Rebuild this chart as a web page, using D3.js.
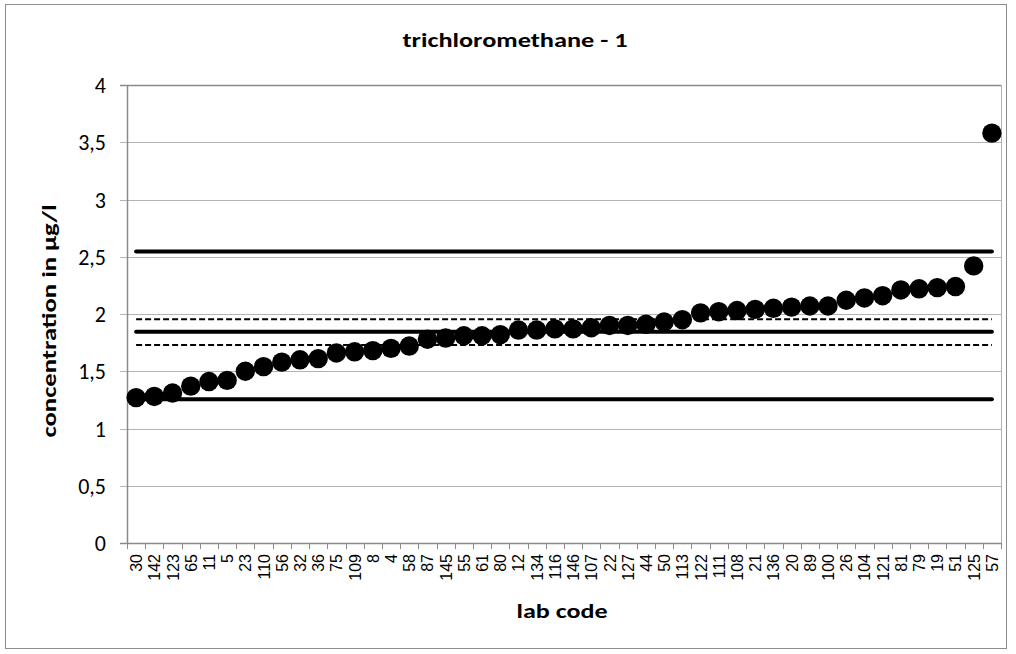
<!DOCTYPE html>
<html><head><meta charset="utf-8">
<script src="https://cdn.jsdelivr.net/npm/d3@7"></script>
<style>body{margin:0;background:#fff}svg{display:block}</style>
</head><body>
<script>
const labCodes = ["30","142","123","65","11","5","23","110","56","32","36","75","109","8","4","58","87","145","55","61","80","12","134","116","146","107","22","127","44","50","113","122","111","108","21","136","20","89","100","26","104","121","81","79","19","51","125","57"];
const concentrations = [1.27,1.28,1.31,1.37,1.41,1.42,1.50,1.54,1.58,1.60,1.61,1.66,1.67,1.68,1.70,1.72,1.78,1.79,1.81,1.81,1.82,1.86,1.86,1.87,1.87,1.88,1.90,1.90,1.91,1.93,1.95,2.01,2.02,2.03,2.04,2.05,2.06,2.07,2.07,2.12,2.14,2.16,2.21,2.22,2.23,2.24,2.42,3.58];
const solidLimits = [2.545, 1.845, 1.255];
const dashedLimits = [1.955, 1.73];
const yTicks = [0,0.5,1,1.5,2,2.5,3,3.5,4];

const W=1016,H=654;
const m={left:127,right:1001,top:85,bottom:543};
const svg=d3.select("body").append("svg").attr("width",W).attr("height",H);
svg.append("rect").attr("x",5.5).attr("y",4.5).attr("width",1001).attr("height",644).attr("fill","#fff").attr("stroke","#8c8c8c");

const x=d3.scaleBand().domain(labCodes).range([m.left,m.right]);
const y=d3.scaleLinear().domain([0,4]).range([m.bottom,m.top]);
const fmt=d=>String(d).replace(".",",");
const cx=d=>x(d)+x.bandwidth()/2;

// grid
svg.append("g").selectAll("line").data(yTicks).join("line")
 .attr("x1",m.left-7).attr("x2",m.right).attr("y1",d=>Math.round(y(d))+0.5).attr("y2",d=>Math.round(y(d))+0.5)
 .attr("stroke",d=>d===0||d===4?"#8a8a8a":"#b3b3b3").attr("stroke-width",d=>d===0||d===4?1.5:1);
svg.append("line").attr("x1",m.left+0.5).attr("x2",m.left+0.5).attr("y1",m.top).attr("y2",m.bottom).attr("stroke","#8a8a8a").attr("stroke-width",1.5);
svg.append("line").attr("x1",m.right+0.5).attr("x2",m.right+0.5).attr("y1",m.top).attr("y2",m.bottom).attr("stroke","#b3b3b3");
// x ticks at category boundaries
const bounds=labCodes.map(d=>x(d)).concat([m.right]);
svg.append("g").selectAll("line").data(bounds).join("line")
 .attr("x1",d=>Math.round(d)+0.5).attr("x2",d=>Math.round(d)+0.5).attr("y1",m.bottom).attr("y2",m.bottom+6)
 .attr("stroke","#8a8a8a");

// y tick labels
svg.append("g").selectAll("text").data(yTicks).join("text")
 .attr("x",106).attr("y",d=>y(d)+8).attr("text-anchor","end")
 .attr("font-family","Carlito, Lato, 'Open Sans', sans-serif").attr("font-size",22).text(fmt);

// x tick labels
svg.append("g").selectAll("text").data(labCodes).join("text")
 .attr("transform",d=>`translate(${cx(d)+6},554) rotate(-90)`)
 .attr("text-anchor","end").attr("font-family","'Liberation Sans', Arial, sans-serif").attr("font-size",16).text(d=>d);

// limit lines
const x0=cx(labCodes[0]), x1=cx(labCodes[labCodes.length-1]);
svg.append("g").selectAll("line").data(solidLimits).join("line")
 .attr("x1",x0).attr("x2",x1).attr("y1",d=>y(d)).attr("y2",d=>y(d))
 .attr("stroke","#000").attr("stroke-width",4).attr("stroke-linecap","round");
svg.append("g").selectAll("line").data(dashedLimits).join("line")
 .attr("x1",x0).attr("x2",x1).attr("y1",d=>y(d)).attr("y2",d=>y(d))
 .attr("stroke","#000").attr("stroke-width",2).attr("stroke-dasharray","6,3");

// points
svg.append("g").selectAll("circle").data(concentrations).join("circle")
 .attr("cx",(d,i)=>cx(labCodes[i])).attr("cy",d=>y(d)).attr("r",9.7).attr("fill","#000");

// titles
const ff="Carlito, Lato, 'Open Sans', sans-serif";
svg.append("text").attr("x",515).attr("y",47).attr("text-anchor","middle")
 .attr("font-family",ff).attr("font-weight","bold").attr("font-size",20)
 .attr("textLength",225).attr("lengthAdjust","spacingAndGlyphs").text("trichloromethane - 1");
svg.append("text").attr("transform","translate(56,321) rotate(-90)").attr("text-anchor","middle")
 .attr("font-family",ff).attr("font-weight","bold").attr("font-size",21)
 .attr("textLength",233).attr("lengthAdjust","spacingAndGlyphs").text("concentration in µg/l");
svg.append("text").attr("x",562).attr("y",618).attr("text-anchor","middle")
 .attr("font-family",ff).attr("font-weight","bold").attr("font-size",21)
 .attr("textLength",91).attr("lengthAdjust","spacingAndGlyphs").text("lab code");
</script>
</body></html>
